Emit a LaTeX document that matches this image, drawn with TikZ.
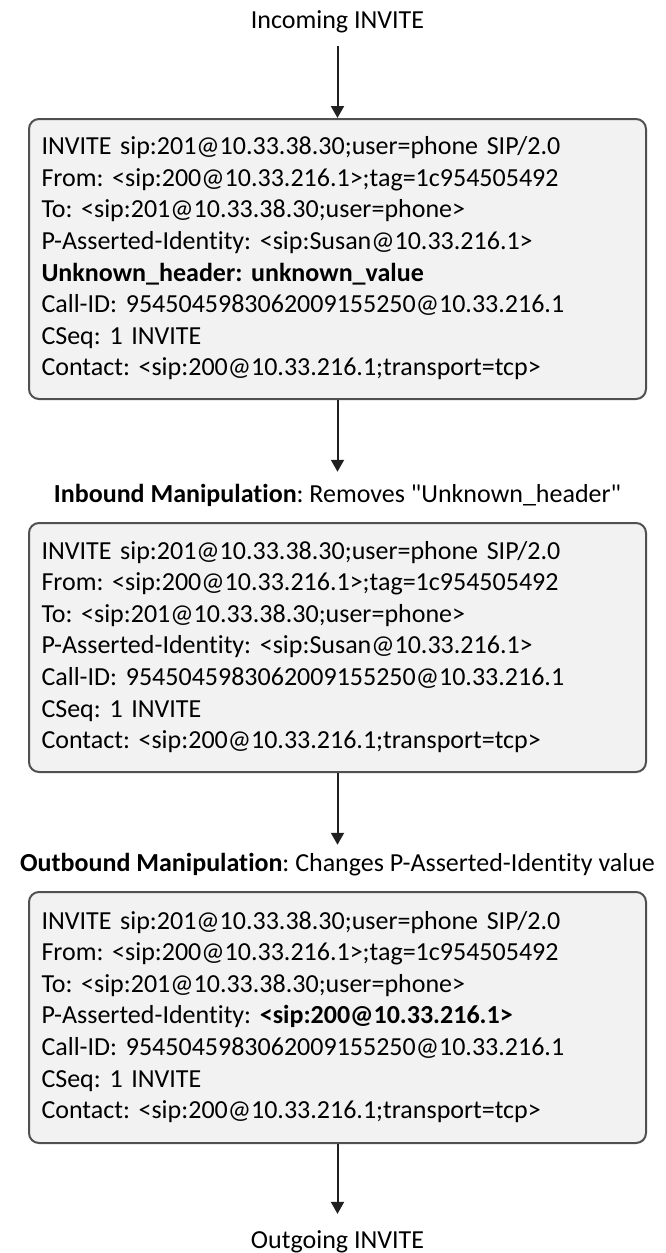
\documentclass[tikz,border=0pt]{standalone}
\usepackage{fontspec}
\setmainfont{Carlito}[Ligatures={TeXOff,NoCommon}]
\usetikzlibrary{arrows.meta}
\definecolor{boxfill}{HTML}{F2F2F2}
\definecolor{boxline}{HTML}{505050}
\definecolor{arrowcol}{HTML}{202020}
\frenchspacing
\begin{document}
\begin{tikzpicture}[x=0.75pt,y=-0.75pt,
  msgbox/.style={draw=boxline, fill=boxfill, line width=1.5pt, rounded corners=7.5pt,
    minimum width=462.75pt, text width=444pt, align=left, inner xsep=9pt, inner ysep=0pt,
    font=\fontsize{19.5}{23.7}\selectfont\frenchspacing},
  lbl/.style={inner sep=0pt, anchor=base, font=\fontsize{19.5}{23.7}\selectfont\frenchspacing},
  arr/.style={draw=arrowcol, line width=1.5pt, -{Triangle[width=9.75pt,length=9pt]}}]
\useasboundingbox (0,0) rectangle (665,1253);

\node[lbl] (in) at (337.5,28) {Incoming INVITE};

\node[msgbox, minimum height=210pt] (box1) at (337.5,259) {%
\strut INVITE sip:201@10.33.38.30;user=phone SIP/2.0\\
\strut From: <sip:200@10.33.216.1>;tag=1c954505492\\
\strut To: <sip:201@10.33.38.30;user=phone>\\
\strut P-Asserted-Identity: <sip:Susan@10.33.216.1>\\
\strut \textbf{Unknown\_header: unknown\_value}\\
\strut Call-ID: 9545045983062009155250@10.33.216.1\\
\strut CSeq: 1 INVITE\\
\strut Contact: <sip:200@10.33.216.1;transport=tcp>};

\node[lbl] (inb) at (337.5,502) {\textbf{Inbound Manipulation}: Removes "Unknown\_header"};

\node[msgbox, minimum height=186.75pt] (box2) at (337.5,647.5) {%
\strut INVITE sip:201@10.33.38.30;user=phone SIP/2.0\\
\strut From: <sip:200@10.33.216.1>;tag=1c954505492\\
\strut To: <sip:201@10.33.38.30;user=phone>\\
\strut P-Asserted-Identity: <sip:Susan@10.33.216.1>\\
\strut Call-ID: 9545045983062009155250@10.33.216.1\\
\strut CSeq: 1 INVITE\\
\strut Contact: <sip:200@10.33.216.1;transport=tcp>};

\node[lbl] (outb) at (337.5,871) {\textbf{Outbound Manipulation}: Changes P-Asserted-Identity value};

\node[msgbox, minimum height=188.25pt] (box3) at (337.5,1017.5) {%
\strut INVITE sip:201@10.33.38.30;user=phone SIP/2.0\\
\strut From: <sip:200@10.33.216.1>;tag=1c954505492\\
\strut To: <sip:201@10.33.38.30;user=phone>\\
\strut P-Asserted-Identity: \textbf{<sip:200@10.33.216.1>}\\
\strut Call-ID: 9545045983062009155250@10.33.216.1\\
\strut CSeq: 1 INVITE\\
\strut Contact: <sip:200@10.33.216.1;transport=tcp>};

\node[lbl] (out) at (337.5,1248) {Outgoing INVITE};

\draw[arr, shorten <=9.75pt] (in) -- (box1);
\draw[arr, shorten >=8.8pt] (box1) -- (inb);
\draw[arr, shorten >=5.8pt] (box2) -- (outb);
\draw[arr, shorten >=12pt] (box3) -- (out);
\end{tikzpicture}
\end{document}
